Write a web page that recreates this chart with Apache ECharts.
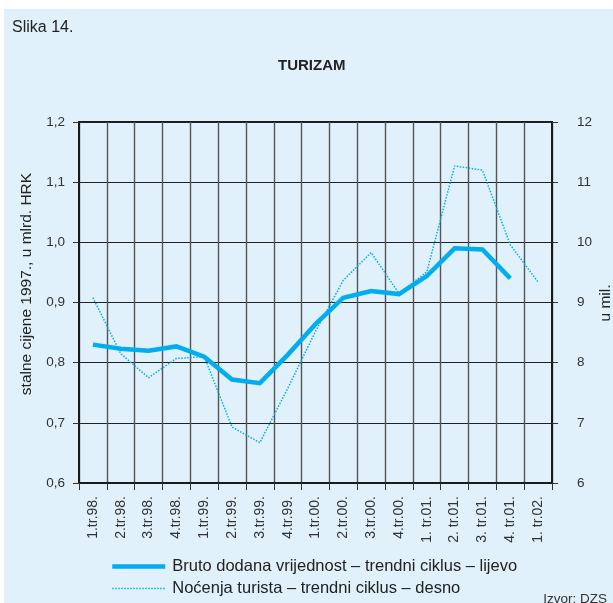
<!DOCTYPE html>
<html lang="hr">
<head>
    <meta charset="UTF-8">
    <title>Turizam</title>
    <style>
        html,body{
            padding: 0;
            margin: 0;
            background: #fff;
        }
        .chart{
            width: 613px;
            height: 603px;
            background: linear-gradient(#e0f1fb,#e0f1fb) 4px 9px / 100% 100% no-repeat, #fff;
        }
    </style>
    <script src="https://cdn.jsdelivr.net/npm/echarts@6/dist/echarts.min.js"></script>
</head>
<body>
<div class="chart"></div>
<script>
    // kvartali
    let periods = ['1.tr.98.','2.tr.98.','3.tr.98.','4.tr.98.','1.tr.99.','2.tr.99.','3.tr.99.','4.tr.99.',
        '1.tr.00.','2.tr.00.','3.tr.00.','4.tr.00.','1. tr.01.','2. tr.01.','3. tr.01.','4. tr.01.','1. tr.02.'];

    // bruto dodana vrijednost, mlrd. HRK (lijevo)
    let bdv = [0.830,0.823,0.820,0.827,0.810,0.772,0.766,0.813,0.864,0.908,0.919,0.914,0.944,0.990,0.988,0.940,null];

    // nocenja turista, mil. (desno)
    let nocenja = [9.08,8.15,7.75,8.07,8.10,6.93,6.67,7.57,8.52,9.37,9.83,9.15,9.51,11.27,11.20,9.96,9.34];

    let names = ['Bruto dodana vrijednost – trendni ciklus – lijevo', 'Noćenja turista – trendni ciklus – desno'];

    let leftTicks = [0.6,1.2];
    let rightTicks = [6,12];

    let blue = '#00aeef';
    let font = 'Liberation Sans, Arial, sans-serif';

    let myChart = echarts.init(document.querySelector('.chart'));

    let option = {
        textStyle: {fontFamily: font},
        title: [{
            text: 'Slika 14.',
            left: 7,
            top: 15,
            textStyle: {fontSize: 16, fontWeight: 'normal', color: '#222'}
        }, {
            text: 'TURIZAM',
            left: 273,
            top: 53,
            textStyle: {fontSize: 15, fontWeight: 'bold', color: '#222'}
        }],
        legend: {
            orient: 'vertical',
            left: 105,
            top: 553,
            height: 60,
            itemWidth: 53,
            itemHeight: 14,
            itemGap: 5,
            itemStyle: {opacity: 0},
            textStyle: {fontSize: 16.5, color: '#222', padding: [0, 0, 0, 2]},
            data: [
                {name: names[0], lineStyle: {width: 4.5}},
                {name: names[1], lineStyle: {width: 1.5}}
            ]
        },
        grid: {
            left: 79,
            right: 61,
            top: 122,
            bottom: 120,
            show: true,
            borderColor: '#1a1a1a',
            borderWidth: 2
        },
        xAxis: {
            type: 'category',
            data: periods,
            boundaryGap: true,
            axisLine: {lineStyle: {color: '#1a1a1a', width: 2}},
            axisTick: {show: true, interval: 0, length: 7, lineStyle: {color: '#333'}},
            axisLabel: {interval: 0, rotate: 90, margin: 13, fontSize: 14, color: '#333'},
            splitLine: {show: true, interval: 0, lineStyle: {color: '#555', width: 1.4}}
        },
        yAxis: [{
            type: 'value',
            min: leftTicks[0],
            max: leftTicks[1],
            interval: 0.1,
            axisLine: {show: true, lineStyle: {color: '#1a1a1a', width: 2}},
            axisTick: {show: true, length: 6, lineStyle: {color: '#333'}},
            axisLabel: {
                fontSize: 13.5, color: '#333', margin: 14,
                formatter: v => v.toFixed(1).replace('.', ',')
            },
            splitLine: {show: true, lineStyle: {color: '#222', width: 1.2}}
        }, {
            type: 'value',
            min: rightTicks[0],
            max: rightTicks[1],
            interval: 1,
            position: 'right',
            axisLine: {show: true, lineStyle: {color: '#1a1a1a', width: 2}},
            axisTick: {show: true, length: 6, lineStyle: {color: '#333'}},
            axisLabel: {fontSize: 13.5, color: '#333', margin: 25},
            splitLine: {show: false}
        }],
        graphic: [{
            type: 'text',
            x: 27,
            y: 284,
            rotation: Math.PI / 2,
            style: {
                text: 'stalne cijene 1997., u mlrd. HRK',
                font: '15.5px ' + font,
                fill: '#222',
                align: 'center',
                verticalAlign: 'middle'
            }
        }, {
            type: 'text',
            x: 606,
            y: 303,
            rotation: Math.PI / 2,
            style: {
                text: 'u mil.',
                font: '15.5px ' + font,
                fill: '#222',
                align: 'center',
                verticalAlign: 'middle'
            }
        }, {
            type: 'text',
            right: 6,
            top: 592,
            style: {
                text: 'Izvor: DZS',
                font: '13.5px ' + font,
                fill: '#333'
            }
        }],
        series: [{
            name: names[0],
            type: 'line',
            yAxisIndex: 0,
            data: bdv,
            symbol: 'none',
            lineStyle: {color: blue, width: 4.5, join: 'miter'},
            itemStyle: {color: blue},
            z: 3
        }, {
            name: names[1],
            type: 'line',
            yAxisIndex: 1,
            data: nocenja,
            symbol: 'none',
            lineStyle: {color: blue, width: 1.5, type: [1.5, 1.5]},
            itemStyle: {color: blue},
            z: 2
        }]
    };

    myChart.setOption(option);
</script>
</body>
</html>
